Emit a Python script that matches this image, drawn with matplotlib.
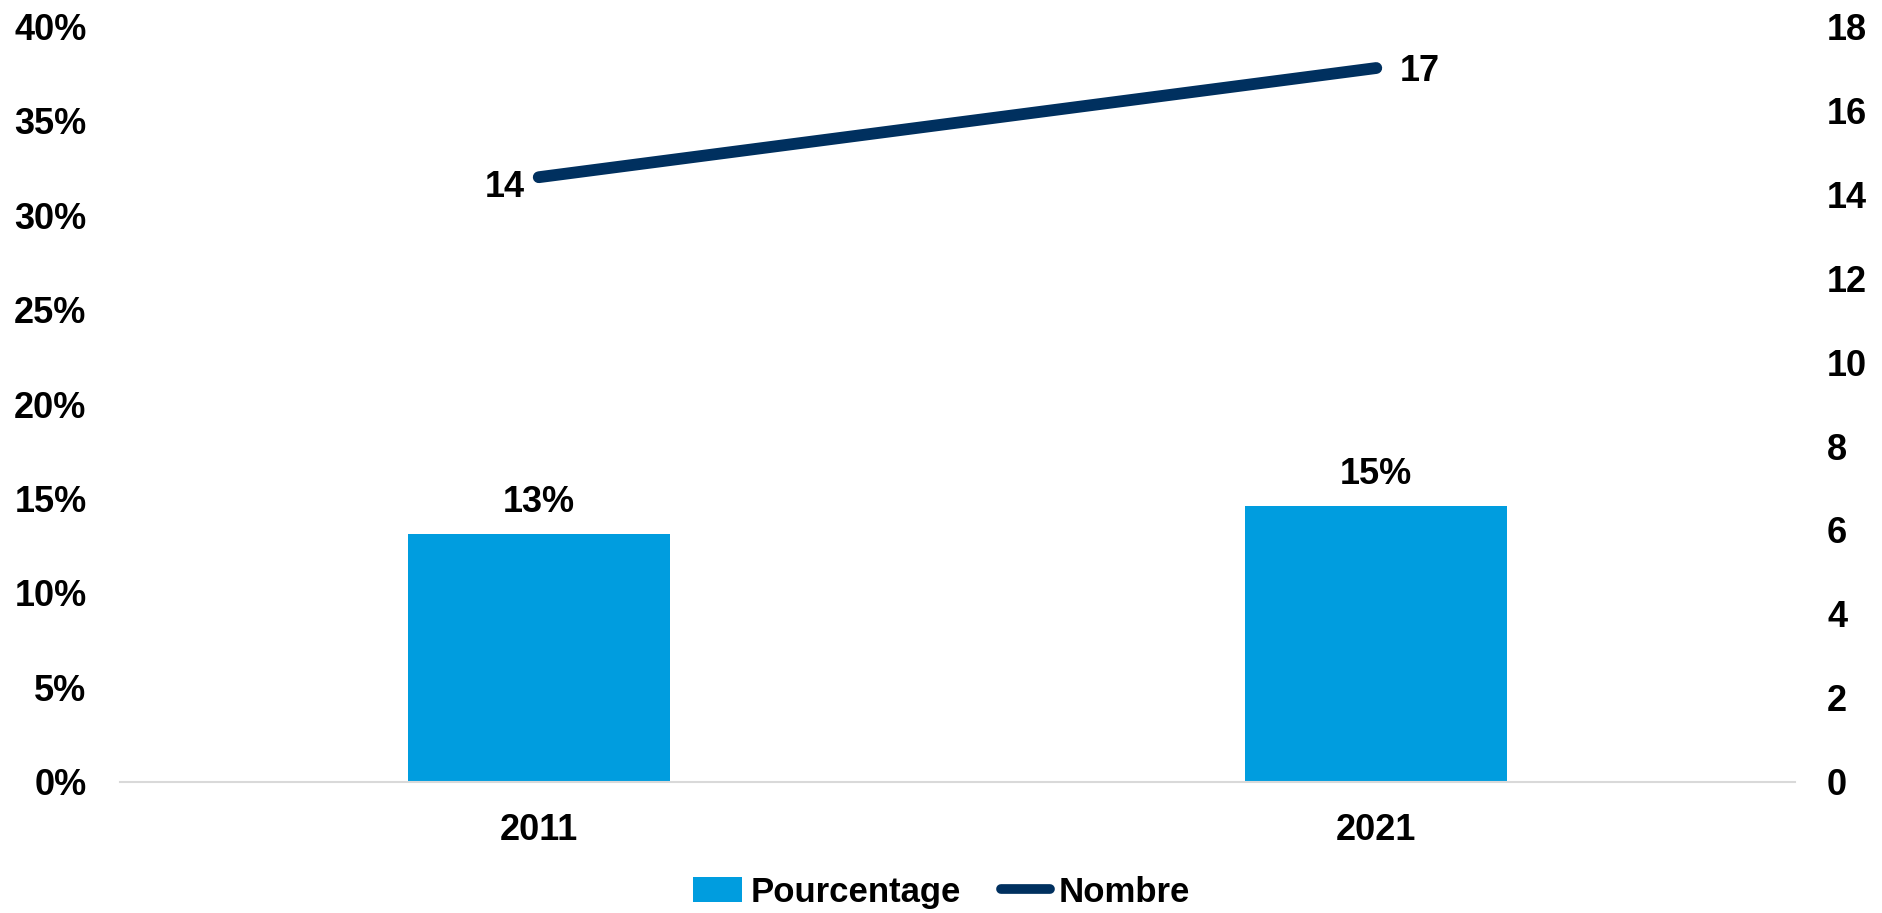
import matplotlib
matplotlib.use("Agg")
import matplotlib.pyplot as plt
from matplotlib.lines import Line2D
from matplotlib.patches import Patch
from matplotlib.ticker import FuncFormatter

plt.rcParams['font.family'] = ['Liberation Sans', 'DejaVu Sans']

years = ["2011", "2021"]
pourcentage = [0.131, 0.146]
pourcentage_labels = ["13%", "15%"]
nombre = [14.4, 17.0]
nombre_labels = ["14", "17"]

bar_color = "#009DDF"
line_color = "#00305F"
fs = 26

fig = plt.figure(figsize=(18.83, 9.13), dpi=100)
ax = fig.add_axes([0.0637, 0.1435, 0.9533 - 0.0637, 0.9715 - 0.1435])
ax2 = ax.twinx()

x = list(range(len(years)))
ax.bar(x, pourcentage, width=0.313, color=bar_color, zorder=2)
ax.set_xlim(-0.5, 1.5)
ax.set_ylim(0, 0.40)
ax.set_yticks([i * 0.05 for i in range(9)])
ax.yaxis.set_major_formatter(FuncFormatter(lambda v, p: f"{v*100:.0f}%"))
ax.set_xticks(x)
ax.set_xticklabels(years)

for xi, v, lab in zip(x, pourcentage, pourcentage_labels):
    ax.annotate(lab, (xi, v), xytext=(0, 32), textcoords='offset pixels',
                ha='center', va='center', fontsize=fs, fontweight='bold')

ax2.plot(x, nombre, color=line_color, linewidth=8.5, solid_capstyle='round', zorder=3)
ax2.set_ylim(0, 18)
ax2.set_yticks(range(0, 19, 2))
ax2.annotate(nombre_labels[0], (x[0], nombre[0]), xytext=(-34, -10), textcoords='offset pixels',
             ha='center', va='center', fontsize=fs, fontweight='bold')
ax2.annotate(nombre_labels[1], (x[1], nombre[1]), xytext=(44, -3), textcoords='offset pixels',
             ha='center', va='center', fontsize=fs, fontweight='bold')

for a in (ax, ax2):
    for s in ('top', 'left', 'right', 'bottom'):
        a.spines[s].set_visible(False)
    a.tick_params(length=0, labelsize=fs)
    for t in a.get_yticklabels() + a.get_xticklabels():
        t.set_fontweight('bold')
ax.spines['bottom'].set_visible(True)
ax.spines['bottom'].set_color('#D9D9D9')
ax.spines['bottom'].set_linewidth(1.5)
ax.tick_params(axis='y', pad=24)
ax2.tick_params(axis='y', pad=23)
ax.tick_params(axis='x', pad=22)

handles = [Patch(facecolor=bar_color, label="Pourcentage"),
           Line2D([0], [0], color=line_color, linewidth=7, solid_capstyle='round', label="Nombre")]
fig.legend(handles=handles, loc='center', bbox_to_anchor=(0.5, 1 - 892 / 913), ncol=2, frameon=False,
           prop={'size': 25, 'weight': 'bold'}, handlelength=1.41, handletextpad=0.26, columnspacing=1.15)

fig.savefig("out.png", dpi=100)
